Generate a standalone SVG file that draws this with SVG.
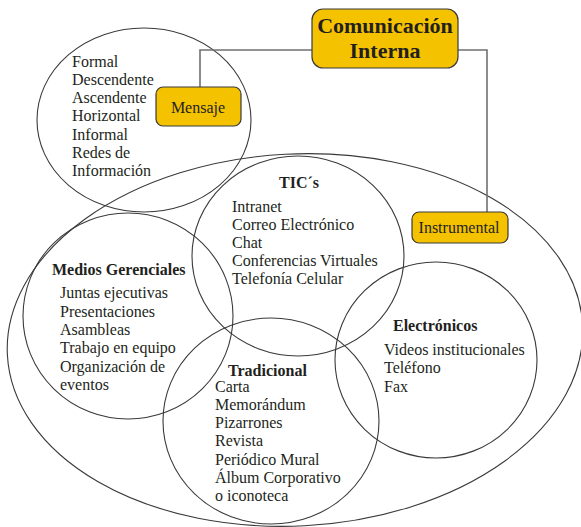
<svg xmlns="http://www.w3.org/2000/svg" width="581" height="527" viewBox="0 0 581 527">
  <style>
    .ring { fill: none; stroke: #3a3a3a; stroke-width: 1.1; }
    .box { fill: #f5c200; stroke: #3a3a3a; stroke-width: 1.2; }
    .link { fill: none; stroke: #707070; stroke-width: 1.6; }
    text { font-family: "Liberation Serif", "Times New Roman", serif; fill: #231f20; font-size: 16px; }
    .head { font-weight: bold; }
    .title { font-weight: bold; font-size: 22px; text-anchor: middle; }
    .label { text-anchor: middle; }
  </style>
  <rect width="581" height="527" fill="#ffffff"/>

  <!-- outer set: instrumental media -->
  <g id="instrumental-set">
    <ellipse class="ring" cx="295" cy="340" rx="288" ry="186" transform="rotate(-3 295 340)"/>
  </g>

  <!-- message types -->
  <g id="mensaje-set">
    <ellipse class="ring" cx="144" cy="120" rx="107" ry="92"/>
    <text x="72" y="67">Formal</text>
    <text x="72" y="85">Descendente</text>
    <text x="72" y="103">Ascendente</text>
    <text x="72" y="121">Horizontal</text>
    <text x="72" y="140">Informal</text>
    <text x="72" y="158">Redes de</text>
    <text x="72" y="176">Información</text>
  </g>

  <g id="tics">
    <ellipse class="ring" cx="298" cy="256" rx="106" ry="100"/>
    <text class="head" x="279" y="188">TIC´s</text>
    <text x="232" y="212">Intranet</text>
    <text x="232" y="230">Correo Electrónico</text>
    <text x="232" y="248">Chat</text>
    <text x="232" y="266">Conferencias Virtuales</text>
    <text x="232" y="284">Telefonía Celular</text>
  </g>

  <g id="medios-gerenciales">
    <ellipse class="ring" cx="128" cy="316" rx="105" ry="103"/>
    <text class="head" x="52" y="275">Medios Gerenciales</text>
    <text x="60" y="298">Juntas ejecutivas</text>
    <text x="60" y="317">Presentaciones</text>
    <text x="60" y="335">Asambleas</text>
    <text x="60" y="353">Trabajo en equipo</text>
    <text x="60" y="372">Organización de</text>
    <text x="60" y="390">eventos</text>
  </g>

  <g id="tradicional">
    <ellipse class="ring" cx="271" cy="421" rx="108" ry="103"/>
    <text class="head" x="228" y="376">Tradicional</text>
    <text x="215" y="392">Carta</text>
    <text x="215" y="410">Memorándum</text>
    <text x="215" y="428">Pizarrones</text>
    <text x="215" y="446">Revista</text>
    <text x="215" y="465">Periódico Mural</text>
    <text x="215" y="483">Álbum Corporativo</text>
    <text x="215" y="501">o iconoteca</text>
  </g>

  <g id="electronicos">
    <ellipse class="ring" cx="436" cy="360" rx="101" ry="98"/>
    <text class="head" x="393" y="331">Electrónicos</text>
    <text x="384" y="355">Videos institucionales</text>
    <text x="384" y="373">Teléfono</text>
    <text x="384" y="392">Fax</text>
  </g>

  <!-- connectors from the root box -->
  <g id="connectors">
    <polyline class="link" points="312,50 200,50 200,87"/>
    <polyline class="link" points="458,50 487,50 487,212"/>
  </g>

  <g id="comunicacion-interna">
    <rect class="box" x="312" y="9" width="146" height="59" rx="11"/>
    <text class="title" x="385" y="33">Comunicación</text>
    <text class="title" x="385" y="58">Interna</text>
  </g>

  <g id="mensaje">
    <rect class="box" x="156" y="87" width="85" height="39" rx="7"/>
    <text class="label" x="198" y="113">Mensaje</text>
  </g>

  <g id="instrumental">
    <rect class="box" x="412" y="212" width="96" height="31" rx="7"/>
    <text class="label" x="459" y="233">Instrumental</text>
  </g>
</svg>
